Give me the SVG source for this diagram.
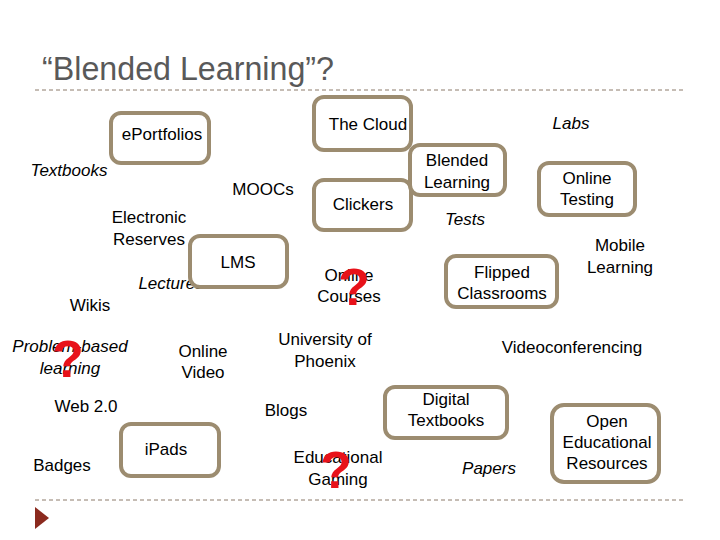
<svg xmlns="http://www.w3.org/2000/svg" width="720" height="540" viewBox="0 0 720 540">
<style>
.t{font-family:"Liberation Sans",Arial,sans-serif;font-size:17px;fill:#000;text-anchor:middle}
.i{font-style:italic}
.b{fill:#fff;stroke:#9C8C70;stroke-width:4}
.q{font-family:"Liberation Sans",Arial,sans-serif;font-size:52px;font-weight:bold;fill:#E8121A;text-anchor:middle}
.d{stroke:#8C7B6B;stroke-width:1;stroke-dasharray:4 3}
</style>
<rect width="720" height="540" fill="#fff"/>
<text x="42" y="80" font-family="'Liberation Sans',Arial,sans-serif" font-size="33" fill="#595959" textLength="292" lengthAdjust="spacingAndGlyphs">“Blended Learning”?</text>
<line class="d" x1="35" y1="90" x2="686" y2="90"/>
<line class="d" x1="35" y1="500" x2="686" y2="500"/>
<polygon points="35,507 49,518 35,529" fill="#8B2A1E"/>

<g id="textbooks"><text class="t i" x="69" y="176">Textbooks</text></g>
<g id="moocs"><text class="t" x="263" y="195">MOOCs</text></g>
<g id="electronic-reserves"><text class="t" x="149" y="223">Electronic</text><text class="t" x="149" y="245">Reserves</text></g>
<g id="lectures"><text class="t i" x="171" y="289">Lectures</text></g>
<g id="wikis"><text class="t" x="90" y="311">Wikis</text></g>
<g id="labs"><text class="t i" x="571" y="129">Labs</text></g>
<g id="tests"><text class="t i" x="465" y="225">Tests</text></g>
<g id="mobile-learning"><text class="t" x="620" y="251">Mobile</text><text class="t" x="620" y="273">Learning</text></g>
<g id="online-courses"><text class="t" x="349" y="281">Online</text><text class="t" x="349" y="302">Courses</text><text class="q" x="354" y="305">?</text></g>
<g id="problem-based"><text class="t i" x="70" y="352">Problem-based</text><text class="t i" x="70" y="374">learning</text><text class="q" x="68" y="377">?</text></g>
<g id="online-video"><text class="t" x="203" y="357">Online</text><text class="t" x="203" y="378">Video</text></g>
<g id="university-of-phoenix"><text class="t" x="325" y="345">University of</text><text class="t" x="325" y="367">Phoenix</text></g>
<g id="videoconferencing"><text class="t" x="572" y="353">Videoconferencing</text></g>
<g id="web20"><text class="t" x="86" y="412">Web 2.0</text></g>
<g id="blogs"><text class="t" x="286" y="416">Blogs</text></g>
<g id="badges"><text class="t" x="62" y="471">Badges</text></g>
<g id="educational-gaming"><text class="t" x="338" y="463">Educational</text><text class="t" x="338" y="485">Gaming</text><text class="q" x="336" y="488">?</text></g>
<g id="papers"><text class="t i" x="489" y="474">Papers</text></g>

<g id="eportfolios"><rect class="b" x="111" y="113" width="98" height="50" rx="10"/><text class="t" x="162" y="140">ePortfolios</text></g>
<g id="the-cloud"><rect class="b" x="314" y="97" width="97" height="53" rx="10"/><text class="t" x="368" y="130">The Cloud</text></g>
<g id="clickers"><rect class="b" x="314" y="180" width="97" height="50" rx="10"/><text class="t" x="363" y="210">Clickers</text></g>
<g id="blended-learning"><rect class="b" x="410" y="145" width="95" height="50" rx="10"/><text class="t" x="457" y="166">Blended</text><text class="t" x="457" y="188">Learning</text></g>
<g id="online-testing"><rect class="b" x="539" y="163" width="96" height="52" rx="10"/><text class="t" x="587" y="184">Online</text><text class="t" x="587" y="205">Testing</text></g>
<g id="lms"><rect class="b" x="190" y="236" width="97" height="51" rx="10"/><text class="t" x="238" y="268">LMS</text></g>
<g id="flipped-classrooms"><rect class="b" x="446" y="256" width="111" height="51" rx="10"/><text class="t" x="502" y="278">Flipped</text><text class="t" x="502" y="299">Classrooms</text></g>
<g id="ipads"><rect class="b" x="121" y="424" width="98" height="52" rx="10"/><text class="t" x="166" y="455">iPads</text></g>
<g id="digital-textbooks"><rect class="b" x="385" y="387" width="122" height="51" rx="10"/><text class="t" x="446" y="405">Digital</text><text class="t" x="446" y="426">Textbooks</text></g>
<g id="oer"><rect class="b" x="552" y="405" width="107" height="77" rx="12"/><text class="t" x="607" y="427">Open</text><text class="t" x="607" y="448">Educational</text><text class="t" x="607" y="469">Resources</text></g>
<g id="connectors"></g>
</svg>
